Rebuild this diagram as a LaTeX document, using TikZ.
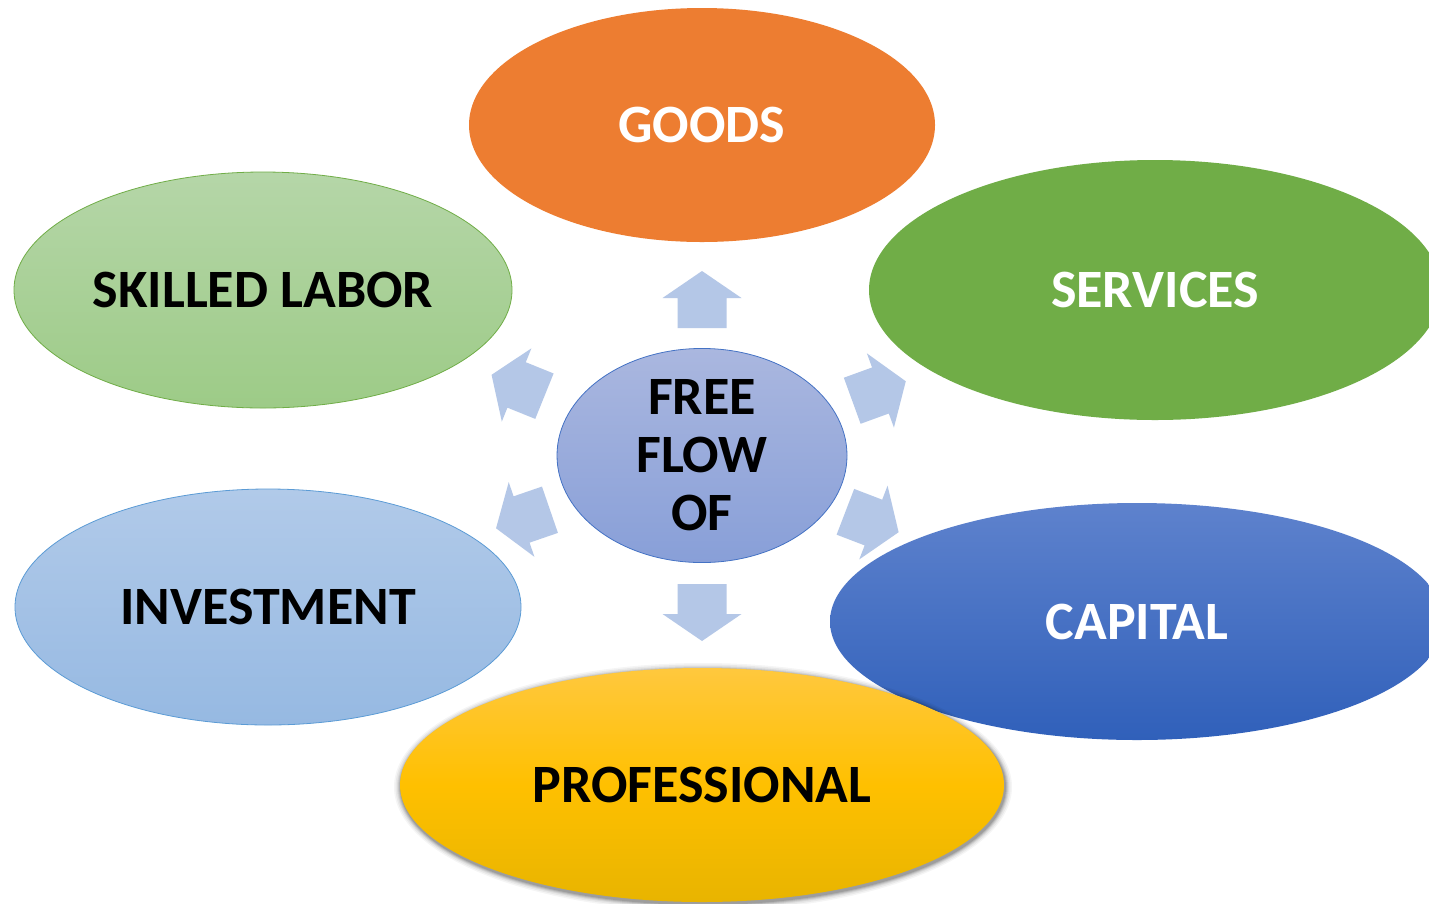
\documentclass[tikz,border=0pt]{standalone}
\usepackage{fontspec}
\setmainfont{Carlito}
\usetikzlibrary{shapes.geometric}
\definecolor{goodsC}{HTML}{ED7D31}
\definecolor{servC}{HTML}{70AD47}
\definecolor{skillT}{HTML}{B5D6A8}
\definecolor{skillB}{HTML}{9DCB87}
\definecolor{skillD}{HTML}{70AD47}
\definecolor{invT}{HTML}{B1CAE9}
\definecolor{invB}{HTML}{96B9E2}
\definecolor{invD}{HTML}{5B9BD5}
\definecolor{freeT}{HTML}{AAB7DF}
\definecolor{freeB}{HTML}{889FD8}
\definecolor{freeD}{HTML}{4472C4}
\definecolor{capT}{HTML}{5E82CD}
\definecolor{capB}{HTML}{3060BA}
\definecolor{profT}{HTML}{FFC83E}
\definecolor{profM}{HTML}{FFC000}
\definecolor{profB}{HTML}{E8B400}
\definecolor{arrowC}{HTML}{B4C7E7}
\tikzset{
  oval/.style={ellipse, inner sep=0pt, outer sep=0pt, font=\bfseries\fontsize{54}{58}\selectfont, align=center},
  blockarrow/.style={fill=arrowC, draw=none},
  shadowoval/.style={ellipse, inner sep=0pt, fill=black, draw=none}
}
\newcommand{\blockarr}[3]{%
  \path[blockarrow, shift={(#1,#2)}, rotate=#3]
    (-28.5,-24.5) -- (1.5,-24.5) -- (1.5,-39.5) -- (28.5,0) -- (1.5,39.5) -- (1.5,24.5) -- (-28.5,24.5) -- cycle;}
\begin{document}
\begin{tikzpicture}[x=1pt,y=-1pt]
\useasboundingbox (0,0) rectangle (1429,903);
\fill[white] (0,0) rectangle (1429,903);
\begin{scope}
\clip (0,0) rectangle (1429,903);
% ellipses
\node[oval, fill=goodsC, text=white, minimum width=466, minimum height=234] (goods) at (702,125) {GOODS};
\node[oval, top color=skillT, bottom color=skillB, draw=skillD, line width=0.8pt, minimum width=498, minimum height=236] (skilled) at (263,290) {SKILLED LABOR};
\node[oval, fill=servC, text=white, minimum width=572, minimum height=260] (services) at (1155,290) {SERVICES};
\node[oval, top color=freeT, bottom color=freeB, draw=freeD, line width=0.8pt, minimum width=290, minimum height=209] (free) at (702,455.5) {FREE\\FLOW\\OF};
\node[oval, top color=invT, bottom color=invB, draw=invD, line width=0.8pt, minimum width=506, minimum height=236] (invest) at (268,607) {INVESTMENT};
\node[oval, top color=capT, bottom color=capB, text=white, minimum width=614, minimum height=237] (capital) at (1137,621.5) {CAPITAL};
% shadow of professional
\foreach \g/\o in {14/0.04,11/0.05,8/0.06,6/0.08,4/0.1,2/0.12}{
  \node[shadowoval, opacity=\o, minimum width=604+\g, minimum height=234+\g] at (703,787) {};
}
\node[oval, top color=profT, bottom color=profB, middle color=profM, minimum width=604, minimum height=234] (prof) at (702,785) {PROFESSIONAL};
% block arrows
\blockarr{702}{299.5}{90}
\blockarr{702}{612.5}{-90}
\blockarr{879}{391}{20}
\blockarr{872}{522}{-21}
\blockarr{518}{385.5}{158}
\blockarr{523}{519}{199}
\end{scope}
\end{tikzpicture}
\end{document}
